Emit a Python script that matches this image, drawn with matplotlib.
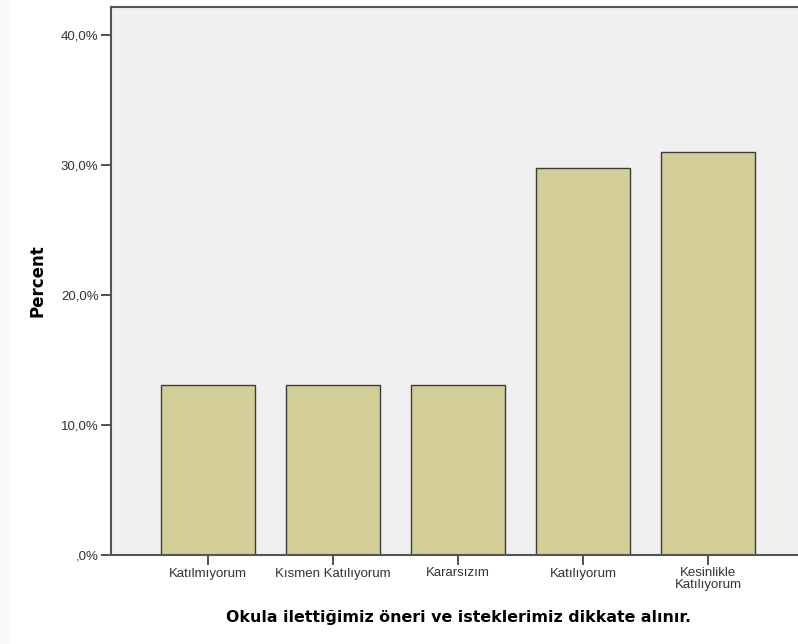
import matplotlib.pyplot as plt
from matplotlib.patches import Rectangle

categories = ["Katılmıyorum", "Kısmen Katılıyorum", "Kararsızım", "Katılıyorum",
              "Kesinlikle\nKatılıyorum"]
percents = [13.1, 13.1, 13.1, 29.8, 31.0]
y_ticks = [0, 10, 20, 30, 40]
y_tick_labels = [",0%", "10,0%", "20,0%", "30,0%", "40,0%"]

plt.rcParams['font.family'] = ['Liberation Sans', 'DejaVu Sans']

fig = plt.figure(figsize=(7.98, 6.44), dpi=100)
fig.patch.set_facecolor('white')
# faint shadow strip on the left edge
fig.patches.append(Rectangle((0, 0), 10 / 798, 1, transform=fig.transFigure,
                             facecolor='#f8f8f8', edgecolor='none', zorder=-1))

ax = fig.add_axes([111 / 798, 89 / 644, 1 - 111 / 798, 548 / 644])
ax.set_facecolor('#f0f0f0')

x = list(range(len(categories)))
ax.bar(x, percents, width=0.75, color='#d3ce98', edgecolor='#3a3a3a', linewidth=1.0,
       zorder=2)

ax.set_xlim(-0.776, 4.72)
ax.set_ylim(0, 42.15)

ax.set_xticks(x)
ax.set_xticklabels(categories, fontsize=9.5, color='#333333', linespacing=0.95)
ax.set_yticks(y_ticks)
ax.set_yticklabels(y_tick_labels, fontsize=9.5, color='#333333')
ax.tick_params(axis='both', direction='out', length=7, width=1.3, color='#444444', pad=2)

for side in ['left', 'bottom', 'top']:
    ax.spines[side].set_color('#555555')
    ax.spines[side].set_linewidth(1.5)
ax.spines['right'].set_visible(False)

ax.set_ylabel("Percent", fontsize=12, fontweight='bold', family='DejaVu Sans')
ax.yaxis.set_label_coords(-65 / 687, 0.5)
ax.set_xlabel("Okula ilettiğimiz öneri ve isteklerimiz dikkate alınır.", fontsize=11.4,
              fontweight='bold', family='DejaVu Sans')
ax.xaxis.set_label_coords((459 - 111) / (798 - 111), -55 / 548)

fig.savefig('out.png', dpi=100)
